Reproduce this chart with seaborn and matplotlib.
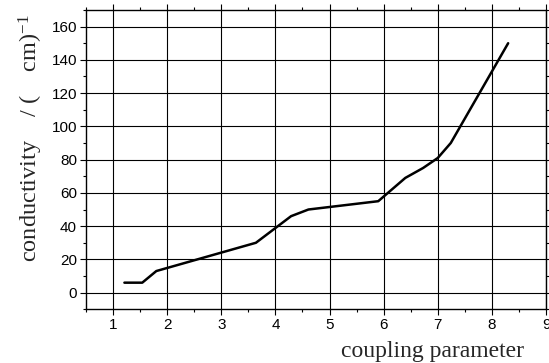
import matplotlib
matplotlib.use("Agg")
import matplotlib.pyplot as plt
import seaborn as sns
import pandas as pd
from matplotlib.ticker import MultipleLocator

coupling = [1.21, 1.54, 1.80, 3.64, 4.29, 4.61, 5.90, 6.40, 6.73, 7.00, 7.24, 8.30]
conductivity = [6, 6, 13, 30, 46, 50, 55, 69, 75, 81, 90, 150]
x_ticks = [1, 2, 3, 4, 5, 6, 7, 8, 9]
y_ticks = [0, 20, 40, 60, 80, 100, 120, 140, 160]

sns.set_style("ticks")
plt.rcParams['font.family'] = ['Liberation Sans', 'DejaVu Sans']
plt.rcParams['mathtext.fontset'] = 'custom'
plt.rcParams['mathtext.rm'] = 'Liberation Serif'
plt.rcParams['mathtext.it'] = 'Liberation Serif:italic'

df = pd.DataFrame({"coupling": coupling, "conductivity": conductivity})

fig = plt.figure(figsize=(5.49, 3.63), dpi=100)
ax = fig.add_axes([0.1566, 0.148, 0.838, 0.8245])

sns.lineplot(data=df, x="coupling", y="conductivity", ax=ax, color="black",
             linewidth=1.8, sort=False, zorder=3)

ax.set_xlim(0.5, 9)
ax.set_ylim(-10, 170)
ax.set_xticks(x_ticks)
ax.set_yticks(y_ticks)
ax.xaxis.set_minor_locator(MultipleLocator(0.5))
ax.yaxis.set_minor_locator(MultipleLocator(10))
ax.grid(True, which="major", color="black", linewidth=0.8)
for s in ax.spines.values():
    s.set_visible(True)
    s.set_color("black")
    s.set_linewidth(1.0)

ax.tick_params(which="both", direction="out", top=True, right=True,
               labelsize=11, colors="black")
ax.tick_params(which="major", length=4, width=0.8, pad=2.5)
ax.tick_params(which="minor", length=2.5, width=0.8)

ax.set_xlabel("coupling parameter", family=["Liberation Serif"], fontsize=17)
ax.xaxis.set_label_coords(0.754, -0.105)
ax.xaxis.label.set_va("top")

ax.set_ylabel(r"conductivity    / (    cm)$^{-1}$", family=["Liberation Serif"], fontsize=17.5)
ax.yaxis.set_label_coords(-0.09, 0.57)

fig.savefig("out.png", dpi=100)
